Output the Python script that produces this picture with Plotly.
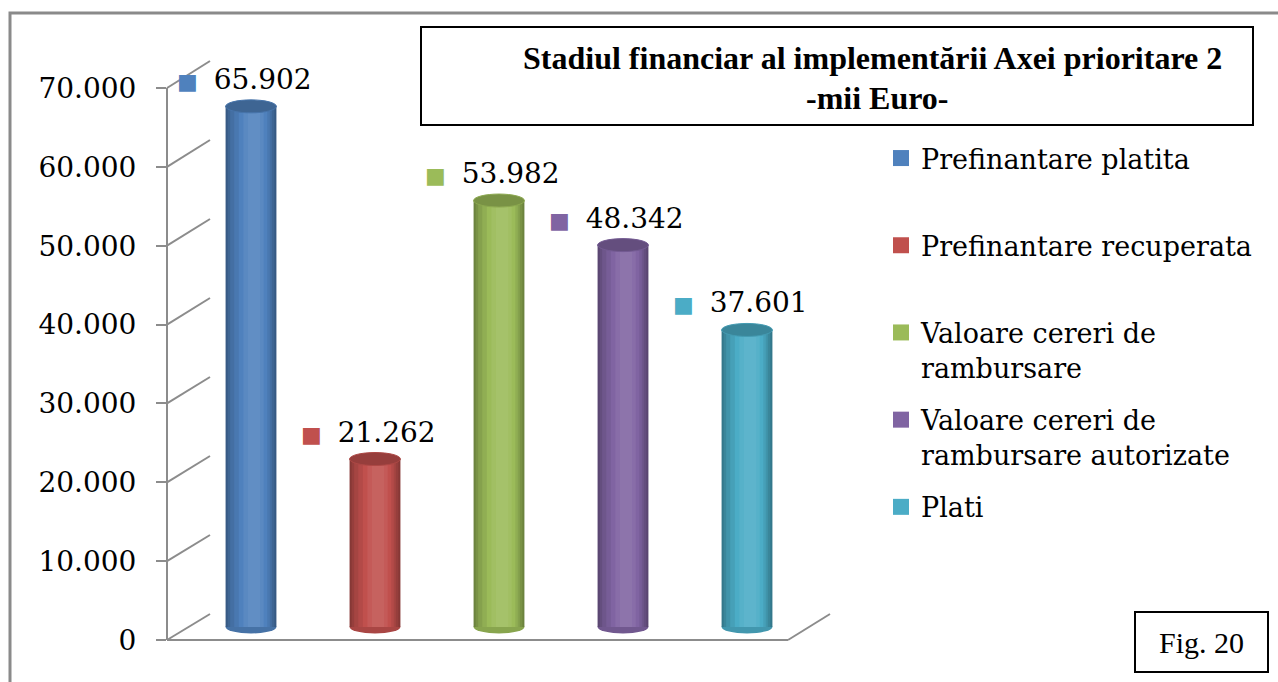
import plotly.graph_objects as go

# ---------------- data ----------------
series_names = ["Prefinantare platita", "Prefinantare recuperata",
                "Valoare cereri de rambursare",
                "Valoare cereri de rambursare autorizate", "Plati"]
legend_labels = ["Prefinantare platita<br> ", "Prefinantare recuperata<br> ",
                 "Valoare cereri de<br>rambursare",
                 "Valoare cereri de<br>rambursare autorizate", "Plati"]
values = [65902, 21262, 53982, 48342, 37601]
value_labels = ["65.902", "21.262", "53.982", "48.342", "37.601"]
tick_vals = [0, 10000, 20000, 30000, 40000, 50000, 60000, 70000]
tick_text = ["0", "10.000", "20.000", "30.000", "40.000", "50.000", "60.000", "70.000"]
colors = ["#4F81BD", "#C0504D", "#9BBB59", "#8064A2", "#4BACC6"]

# ---------------- geometry (pixels) ----------------
W, H = 1278, 682
YMAX = 70000
BACK_L, BACK_R = 210, 830
BACK_Y0, BACK_Y70 = 614, 61
FRONT_X = 167
FRONT_Y0, FRONT_Y70 = 640, 88
BAR_L, BAR_R = 189, 809
BAR_Y0 = 627
k_back = (BACK_Y0 - BACK_Y70) / YMAX
k_front = (FRONT_Y0 - FRONT_Y70) / YMAX
Y3_MIN, Y3_MAX = -3000, 72000
BAR_W = 0.41
ELL_H = 6.5 / k_back  # ellipse half-height in data units

FONT = "DejaVu Serif, serif"
TFONT = "Liberation Serif, Times New Roman, serif"


def px(x):
    return x / W


def py(y):
    return 1 - y / H


def mix(c, f):
    """f>0 darkens toward black, f<0 lightens toward white."""
    c = c.lstrip("#")
    r, g, b = int(c[0:2], 16), int(c[2:4], 16), int(c[4:6], 16)
    t = 0 if f > 0 else 255
    a = abs(f)
    r = round(r + (t - r) * a)
    g = round(g + (t - g) * a)
    b = round(b + (t - b) * a)
    return f"#{r:02x}{g:02x}{b:02x}"


fig = go.Figure()

# invisible trace to create the front value axis subplot
fig.add_trace(go.Scatter(x=[0], y=[0], xaxis="x", yaxis="y2", mode="markers",
                         marker=dict(opacity=0), showlegend=False, hoverinfo="skip"))

# cylinder shading: (width fraction, x offset fraction, darkness)
layers = [(1.00, 0.00, 0.30),
          (0.92, 0.00, 0.22),
          (0.82, 0.00, 0.14),
          (0.70, 0.02, 0.07),
          (0.56, 0.04, 0.00),
          (0.40, 0.05, -0.06),
          (0.24, 0.06, -0.10)]

shapes = []
annotations = []
for i, (name, lab, v, c) in enumerate(zip(series_names, legend_labels, values, colors)):
    for wf, off, d in layers:
        fig.add_trace(go.Bar(
            x=[i + off * BAR_W], y=[v], width=BAR_W * wf, xaxis="x2", yaxis="y3",
            name=lab, legendgroup=name, showlegend=False,
            marker=dict(color=mix(c, d), line=dict(width=0)),
            hoverinfo="skip"))
    # legend entry (square symbol)
    fig.add_trace(go.Scatter(
        x=[None], y=[None], xaxis="x2", yaxis="y3", mode="markers",
        name=lab, legendgroup=name, showlegend=True,
        marker=dict(symbol="square", size=16, color=c), hoverinfo="skip"))
    # bottom rounding
    shapes.append(dict(type="circle", xref="x2", yref="y3", layer="between",
                       x0=i - BAR_W / 2, x1=i + BAR_W / 2, y0=-ELL_H, y1=ELL_H,
                       fillcolor=mix(c, 0.12), line=dict(width=0)))
    # top cap
    shapes.append(dict(type="circle", xref="x2", yref="y3", layer="above",
                       x0=i - BAR_W / 2, x1=i + BAR_W / 2, y0=v - ELL_H, y1=v + ELL_H,
                       fillcolor=mix(c, 0.22), line=dict(color=mix(c, 0.1), width=1)))
    annotations.append(dict(
        x=i, y=v, xref="x2", yref="y3", yshift=27, xshift=-7, showarrow=False,
        xanchor="center", yanchor="middle",
        text=f"<span style='font-size:22px;color:{c}'>■ </span> {value_labels[i]}",
        font=dict(family=FONT, size=28, color="#000000")))

GRID = "#8c8c8c"
# side wall diagonals
for t in tick_vals:
    shapes.append(dict(type="line", xref="paper", yref="paper", layer="below",
                       x0=px(FRONT_X), y0=py(FRONT_Y0 - t * k_front),
                       x1=px(BACK_L), y1=py(BACK_Y0 - t * k_back),
                       line=dict(color=GRID, width=2)))
# floor front edge and right edge
FLOOR_FR = FRONT_X + (BACK_R - BACK_L) + 1
shapes.append(dict(type="line", xref="paper", yref="paper", layer="below",
                   x0=px(FRONT_X), y0=py(FRONT_Y0), x1=px(FLOOR_FR), y1=py(FRONT_Y0),
                   line=dict(color=GRID, width=2)))
shapes.append(dict(type="line", xref="paper", yref="paper", layer="below",
                   x0=px(FLOOR_FR), y0=py(FRONT_Y0), x1=px(BACK_R), y1=py(BACK_Y0),
                   line=dict(color=GRID, width=2)))
# title box
shapes.append(dict(type="rect", xref="paper", yref="paper", layer="above",
                   x0=px(421), y0=py(27), x1=px(1253), y1=py(125),
                   fillcolor="white", line=dict(color="black", width=2)))
# fig box
shapes.append(dict(type="rect", xref="paper", yref="paper", layer="above",
                   x0=px(1135), y0=py(612), x1=px(1268), y1=py(672),
                   fillcolor="white", line=dict(color="black", width=2)))
# outer border
shapes.append(dict(type="rect", xref="paper", yref="paper", layer="above",
                   x0=px(10), y0=py(13), x1=px(1290), y1=py(700),
                   fillcolor="rgba(0,0,0,0)", line=dict(color="#8a8a8a", width=3)))

annotations.append(dict(
    x=px(872), y=py(58), xref="paper", yref="paper", showarrow=False,
    xanchor="center", yanchor="middle",
    text="<b>Stadiul financiar al implementării Axei prioritare 2</b>",
    font=dict(family=TFONT, size=32, color="black")))
annotations.append(dict(
    x=px(877), y=py(98), xref="paper", yref="paper", showarrow=False,
    xanchor="center", yanchor="middle",
    text="<b>-mii Euro-</b>", font=dict(family=TFONT, size=32, color="black")))
annotations.append(dict(
    x=px(1201), y=py(642), xref="paper", yref="paper", showarrow=False,
    xanchor="center", yanchor="middle",
    text="Fig. 20", font=dict(family=TFONT, size=30, color="black")))

fig.update_layout(
    width=W, height=H,
    margin=dict(l=0, r=0, t=0, b=0, pad=0, autoexpand=False),
    paper_bgcolor="white", plot_bgcolor="rgba(0,0,0,0)",
    barmode="overlay",
    showlegend=True,
    legend=dict(x=px(881), y=py(134), xanchor="left", yanchor="top",
                font=dict(family=FONT, size=27, color="black"),
                valign="top", traceorder="grouped", tracegroupgap=14,
                itemsizing="trace", itemwidth=30,
                bgcolor="rgba(0,0,0,0)", itemclick=False, itemdoubleclick=False),
    xaxis=dict(domain=[px(BACK_L), px(BACK_R)], range=[-0.5, 4.5], anchor="y",
               visible=False, fixedrange=True, automargin=False),
    yaxis=dict(domain=[py(BACK_Y0), py(BACK_Y70)], range=[0, YMAX], anchor="x",
               tickvals=tick_vals, showticklabels=False, ticks="",
               showgrid=True, gridcolor=GRID, gridwidth=2,
               zeroline=True, zerolinecolor=GRID, zerolinewidth=2,
               showline=False, fixedrange=True, automargin=False),
    yaxis2=dict(domain=[py(FRONT_Y0), py(FRONT_Y70)], range=[0, YMAX],
                anchor="free", position=px(FRONT_X), side="left",
                tickvals=tick_vals, ticktext=tick_text,
                ticks="outside", ticklen=10, tickwidth=2, tickcolor=GRID,
                showline=True, linecolor=GRID, linewidth=2,
                showgrid=False, zeroline=False, ticklabelstandoff=14,
                tickfont=dict(family=FONT, size=28, color="black"),
                fixedrange=True, automargin=False),
    xaxis2=dict(domain=[px(BAR_L), px(BAR_R)], range=[-0.5, 4.5], anchor="y3",
                visible=False, fixedrange=True, automargin=False),
    yaxis3=dict(domain=[py(BAR_Y0 + (0 - Y3_MIN) * k_back), py(BAR_Y0 - Y3_MAX * k_back)],
                range=[Y3_MIN, Y3_MAX], anchor="x2", visible=False, fixedrange=True,
                automargin=False),
    shapes=shapes,
    annotations=annotations,
)

fig.write_html("out.html", config={"displayModeBar": False, "staticPlot": True},
               post_script="document.body.style.margin='0';document.body.style.overflow='hidden';")
